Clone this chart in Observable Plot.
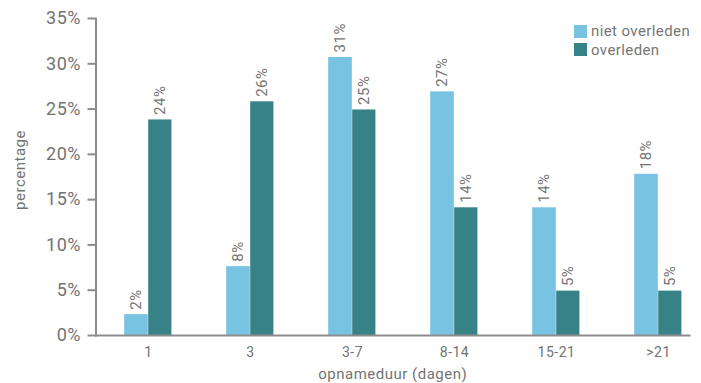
<!DOCTYPE html>
<html>
<head>
<meta charset="utf-8">
<script src="https://cdn.jsdelivr.net/npm/d3@7"></script>
<script src="https://cdn.jsdelivr.net/npm/@observablehq/plot@0.6"></script>
<style>
  html, body { margin: 0; padding: 0; background: #fff; }
  #wrap { position: relative; width: 701px; height: 383px; font-family: Roboto, sans-serif; }
  #legend { position: absolute; left: 574px; top: 22px; color: #767676; font-size: 15px; letter-spacing: 0.4px; }
  #legend .row { display: flex; align-items: center; height: 18.5px; }
  #legend .sw { width: 13px; height: 13px; margin-right: 4px; flex: none; }
</style>
</head>
<body>
<div id="wrap"></div>
<script>
// Opnameduur in dagen, aandeel patiënten per groep (%)
const categories = ["1", "3", "3-7", "8-14", "15-21", ">21"];
const series = ["niet overleden", "overleden"];
const nietOverleden = [2.3, 7.6, 30.7, 26.9, 14.1, 17.8];
const overleden = [23.8, 25.8, 24.9, 14.1, 4.9, 4.9];
const yTicks = [0, 5, 10, 15, 20, 25, 30, 35];
const colors = ["#78c2e2", "#368287"];

const rows = categories.flatMap((c, i) => [
  {categorie: c, groep: series[0], waarde: nietOverleden[i]},
  {categorie: c, groep: series[1], waarde: overleden[i]}
]);
const licht = rows.filter(d => d.groep === series[0]);
const donker = rows.filter(d => d.groep === series[1]);

const textGray = "#737373";
const axisGray = "#8c8c8c";
const pct = d => d3.format(".0f")(d) + "%";

const chart = Plot.plot({
  width: 701,
  height: 383,
  marginLeft: 95.5,
  marginRight: 12,
  marginTop: 18,
  marginBottom: 48,
  style: {fontFamily: "Roboto, sans-serif", color: textGray, background: "#fff", letterSpacing: "0.5px"},
  x: {domain: categories, range: [95.5, 710.3], padding: 0},
  y: {domain: [0, 35]},
  color: {domain: series, range: colors},
  marks: [
    Plot.barY(licht, {x: "categorie", y: "waarde", fill: "groep", insetLeft: 27.2, insetRight: 51.2}),
    Plot.barY(donker, {x: "categorie", y: "waarde", fill: "groep", insetLeft: 51.2, insetRight: 27.6}),
    Plot.text(licht, {x: "categorie", y: "waarde", text: d => pct(d.waarde), rotate: -90, textAnchor: "start", dx: -12, dy: -5, fontSize: 15, fill: textGray}),
    Plot.text(donker, {x: "categorie", y: "waarde", text: d => pct(d.waarde), rotate: -90, textAnchor: "start", dx: 12, dy: -5, fontSize: 15, fill: textGray}),
    Plot.frame({anchor: "left", stroke: axisGray, strokeWidth: 2}),
    Plot.frame({anchor: "bottom", stroke: axisGray, strokeWidth: 2}),
    Plot.axisY({ticks: yTicks, tickFormat: d => d + "%", tickSize: 8, tickPadding: 7, fontSize: 18, stroke: axisGray, strokeWidth: 2, strokeOpacity: 1, label: null, fill: textGray}),
    Plot.axisX({tickSize: 0, tickPadding: 12, fontSize: 14, label: null, fill: textGray}),
    Plot.text(["percentage"], {frameAnchor: "left", textAnchor: "middle", lineAnchor: "middle", dx: -76, dy: -7, rotate: -90, fontSize: 15, fill: textGray}),
    Plot.text(["opnameduur (dagen)"], {frameAnchor: "bottom", textAnchor: "middle", lineAnchor: "middle", dy: 39, fontSize: 15, fill: textGray})
  ]
});

const wrap = document.getElementById("wrap");
wrap.appendChild(chart);

// legenda rechtsboven
const colorScale = chart.scale("color");
const legend = d3.select(wrap).append("div").attr("id", "legend");
const item = legend.selectAll("div").data(colorScale.domain).join("div").attr("class", "row");
item.append("span").attr("class", "sw").style("background", (d, i) => colorScale.range[i]);
item.append("span").text(d => d);
</script>
</body>
</html>
